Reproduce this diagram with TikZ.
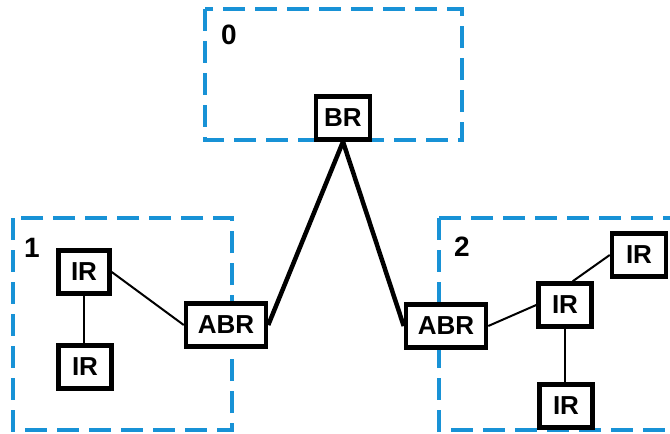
\documentclass[tikz,border=0pt]{standalone}
\usepackage{fontspec}
\setmainfont{Liberation Sans}
\begin{document}
\begin{tikzpicture}[x=1pt,y=-1pt,
  area/.style={draw=areablue, line width=4pt, dash pattern=on 22pt off 10pt},
  router/.style={draw=black, fill=white, line width=4.5pt, minimum height=43pt, inner sep=0pt,
    font=\fontsize{26}{28}\selectfont\bfseries},
  arealabel/.style={font=\fontsize{28}{30}\selectfont\bfseries, inner sep=0pt},
  thick link/.style={line width=4.5pt},
  thin link/.style={line width=2pt}]
\definecolor{areablue}{RGB}{24,146,214}
\useasboundingbox (0,0) rectangle (670,434);
% areas
\draw[area] (205,9) rectangle (462,140);
\draw[area] (13,218) rectangle (232,430);
\draw[area] (439,218) -- (439,430) -- (690,430);
\draw[area] (439,218) -- (690,218);
\node[arealabel] (l0) at (229,35) {0};
\node[arealabel] (l1) at (32,248) {1};
\node[arealabel] (l2) at (462,247) {2};
% routers
\node[router, minimum width=54pt] (br) at (343,118) {BR};
\node[router, minimum width=51pt] (ir1) at (84,272) {IR};
\node[router, minimum width=53pt] (ir2) at (85,367) {IR};
\node[router, minimum width=80pt] (abrL) at (226,325) {ABR};
\node[router, minimum width=80pt] (abrR) at (446,326) {ABR};
\node[router, minimum width=53pt] (irm) at (565,305) {IR};
\node[router, minimum width=54pt] (irt) at (639,255) {IR};
\node[router, minimum width=53pt] (irb) at (566,406) {IR};
% links
\draw[thick link] (br.south) -- (abrL.east);
\draw[thick link] (br.south) -- (abrR.west);
\draw[thin link] (ir1.east) -- (abrL.west);
\draw[thin link] (ir1.south) -- (ir1.south |- ir2.north);
\draw[thin link] (abrR.east) -- (irm.west);
\draw[thin link] (irm.72) -- (irt.west);
\draw[thin link] (irm.south) -- (irm.south |- irb.north);
\end{tikzpicture}
\end{document}
